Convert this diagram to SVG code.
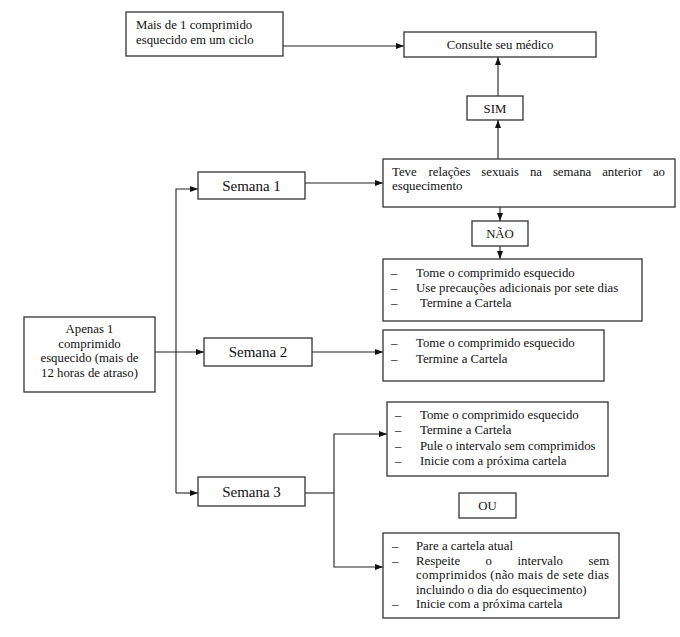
<svg xmlns="http://www.w3.org/2000/svg" width="680" height="637" viewBox="0 0 680 637">
<defs>
<marker id="ah" viewBox="0 0 8 6" refX="8" refY="3" markerWidth="8" markerHeight="6" markerUnits="userSpaceOnUse" orient="auto">
<path d="M0,0 L8,3 L0,6 Z" fill="#111"/>
</marker>
<style>
.box{fill:#fff;stroke:#333;stroke-width:1.3}
.t{font-family:'Liberation Serif','DejaVu Serif',serif;font-size:12.8px;fill:#111}
.big{font-family:'Liberation Serif','DejaVu Serif',serif;font-size:15px;fill:#111}
.c{text-anchor:middle}
.ln{fill:none;stroke:#222;stroke-width:1.1}
.ar{marker-end:url(#ah)}
</style>
</defs>
<rect width="680" height="637" fill="#fff"/>
<g id="connectors">
<line class="ln ar" x1="283" y1="46" x2="404" y2="46"/>
<line class="ln ar" x1="498" y1="96" x2="498" y2="57"/>
<line class="ln ar" x1="498" y1="159" x2="498" y2="120"/>
<line class="ln ar" x1="305" y1="183" x2="383" y2="183"/>
<line class="ln ar" x1="500" y1="207" x2="500" y2="221"/>
<line class="ln ar" x1="500" y1="246" x2="500" y2="259"/>
<polyline class="ln ar" points="176,493 176,189 198,189"/>
<line class="ln ar" x1="176" y1="493" x2="198" y2="493"/>
<line class="ln ar" x1="155" y1="352" x2="204" y2="352"/>
<line class="ln ar" x1="312" y1="352" x2="383" y2="352"/>
<line class="ln" x1="305" y1="493" x2="334" y2="493"/>
<polyline class="ln ar" points="334,493 334,434 387,434"/>
<polyline class="ln ar" points="334,493 334,567 383,567"/>
</g>
<g id="mais">
<rect class="box" x="126" y="12" width="157" height="44"/>
<text class="t" x="136" y="29">Mais de 1 comprimido</text>
<text class="t" x="136" y="44">esquecido em um ciclo</text>
</g>
<g id="consulte">
<rect class="box" x="404" y="32" width="192" height="25"/>
<text class="t c" x="500" y="49">Consulte seu médico</text>
</g>
<g id="sim">
<rect class="box" x="467" y="96" width="56" height="24"/>
<text class="t c" x="495" y="112.5">SIM</text>
</g>
<g id="teve">
<rect class="box" x="383" y="159" width="292" height="48"/>
<text class="t" y="176"><tspan x="392">Teve</tspan><tspan x="428.5">relações</tspan><tspan x="481.3">sexuais</tspan><tspan x="529.9">na</tspan><tspan x="552.9">semana</tspan><tspan x="602.2">anterior</tspan><tspan x="652.9">ao</tspan></text>
<text class="t" x="392" y="190">esquecimento</text>
</g>
<g id="nao">
<rect class="box" x="472" y="221" width="56" height="25"/>
<text class="t c" x="500" y="238">NÃO</text>
</g>
<g id="semana1-acoes">
<rect class="box" x="383" y="259" width="259" height="62"/>
<text class="t" x="391" y="277">–</text><text class="t" x="416" y="277">Tome o comprimido esquecido</text>
<text class="t" x="391" y="292">–</text><text class="t" x="416" y="292">Use precauções adicionais por sete dias</text>
<text class="t" x="391" y="307">–</text><text class="t" x="420" y="307">Termine a Cartela</text>
</g>
<g id="semana1">
<rect class="box" x="198" y="172" width="107" height="27"/>
<text class="big c" x="251.5" y="190.5">Semana 1</text>
</g>
<g id="apenas">
<rect class="box" x="24" y="317" width="131" height="75"/>
<text class="t c" x="89.5" y="333">Apenas 1</text>
<text class="t c" x="89.5" y="347.5">comprimido</text>
<text class="t c" x="89.5" y="362">esquecido (mais de</text>
<text class="t c" x="89.5" y="376.5">12 horas de atraso)</text>
</g>
<g id="semana2">
<rect class="box" x="204" y="338" width="108" height="28"/>
<text class="big c" x="258" y="357">Semana 2</text>
</g>
<g id="semana2-acoes">
<rect class="box" x="383" y="330" width="221" height="51"/>
<text class="t" x="391" y="347">–</text><text class="t" x="416" y="347">Tome o comprimido esquecido</text>
<text class="t" x="391" y="363">–</text><text class="t" x="416" y="363">Termine a Cartela</text>
</g>
<g id="semana3">
<rect class="box" x="198" y="477" width="107" height="29"/>
<text class="big c" x="251.5" y="496.5">Semana 3</text>
</g>
<g id="semana3-opcao1">
<rect class="box" x="387" y="402" width="221" height="74"/>
<text class="t" x="395" y="419">–</text><text class="t" x="420" y="419">Tome o comprimido esquecido</text>
<text class="t" x="395" y="434">–</text><text class="t" x="420" y="434">Termine a Cartela</text>
<text class="t" x="395" y="450">–</text><text class="t" x="420" y="450">Pule o intervalo sem comprimidos</text>
<text class="t" x="395" y="465">–</text><text class="t" x="420" y="465">Inicie com a próxima cartela</text>
</g>
<g id="ou">
<rect class="box" x="459" y="493" width="57" height="25"/>
<text class="t c" x="487.5" y="510">OU</text>
</g>
<g id="semana3-opcao2">
<rect class="box" x="383" y="533" width="236" height="85"/>
<text class="t" x="392" y="550">–</text><text class="t" x="416" y="550">Pare a cartela atual</text>
<text class="t" x="392" y="564.5">–</text><text class="t" y="564.5"><tspan x="416">Respeite</tspan><tspan x="485.6">o</tspan><tspan x="517.5">intervalo</tspan><tspan x="588.5">sem</tspan></text>
<text class="t" x="416" y="579" textLength="193" lengthAdjust="spacing">comprimidos (não mais de sete dias</text>
<text class="t" x="416" y="593.5">incluindo o dia do esquecimento)</text>
<text class="t" x="392" y="608">–</text><text class="t" x="416" y="608">Inicie com a próxima cartela</text>
</g>
</svg>
